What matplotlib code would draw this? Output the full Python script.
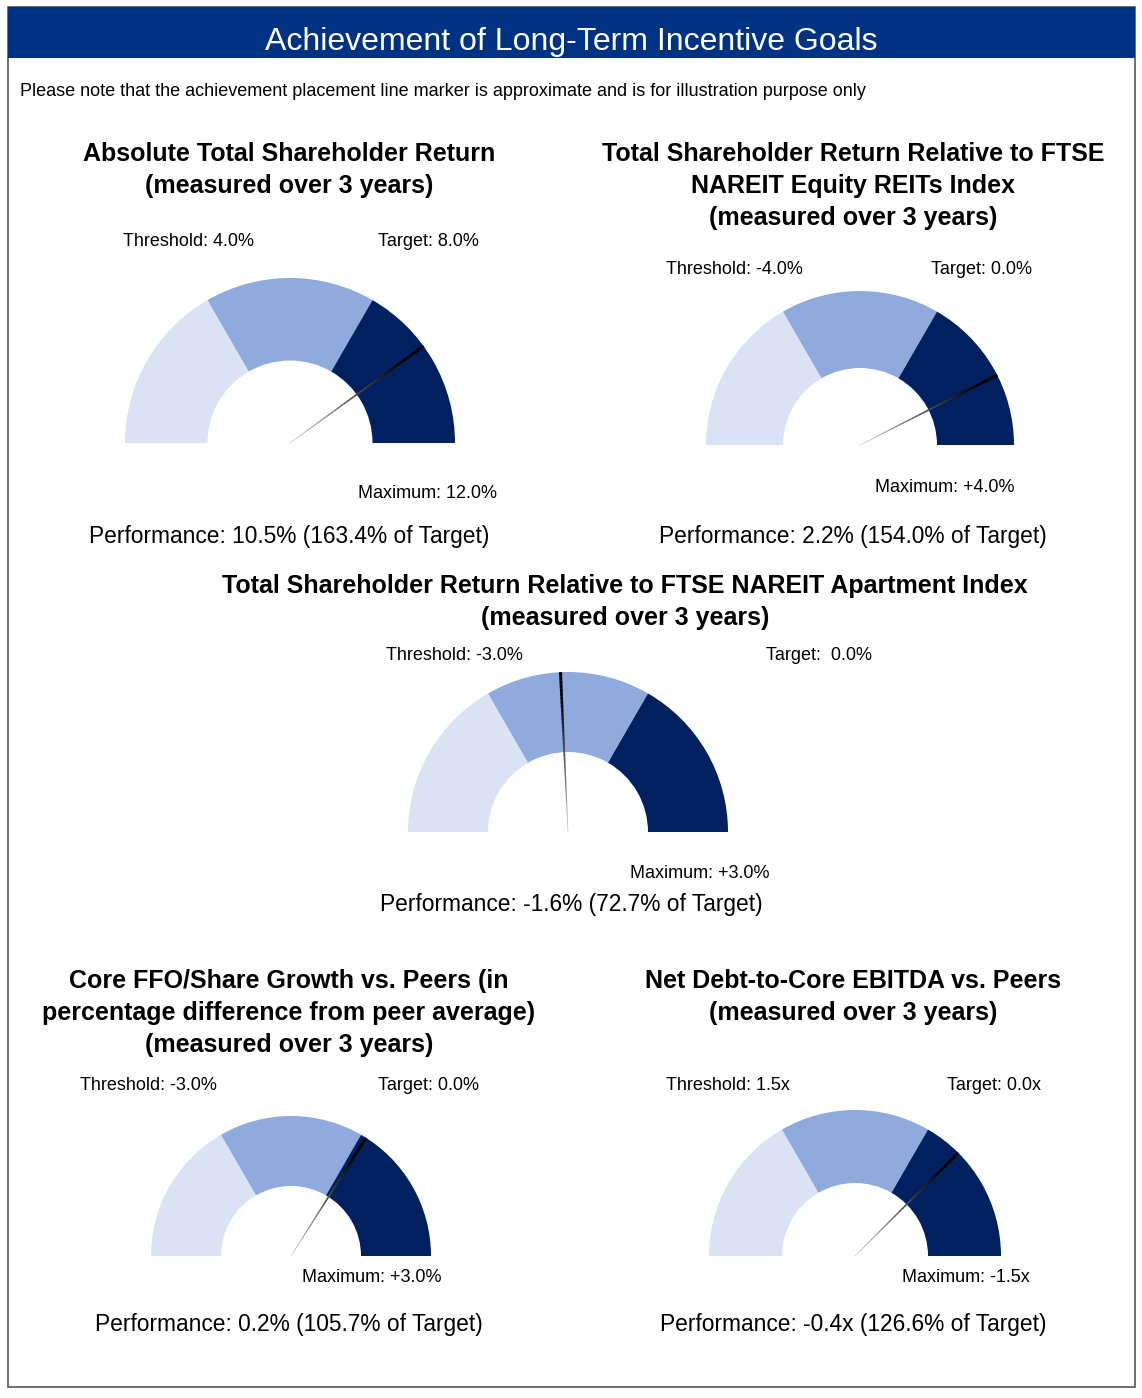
import numpy as np
import matplotlib
matplotlib.use('Agg')
import matplotlib.pyplot as plt
from matplotlib.patches import Wedge, Rectangle
from matplotlib.collections import LineCollection

plt.rcParams['font.family'] = ['Liberation Sans', 'DejaVu Sans']

W, H = 1142, 1398

# chart data
main_title = 'Achievement of Long-Term Incentive Goals'
note = ('Please note that the achievement placement line marker is approximate '
        'and is for illustration purpose only')

gauge_titles = [
    ['Absolute Total Shareholder Return', '(measured over 3 years)'],
    ['Total Shareholder Return Relative to FTSE', 'NAREIT Equity REITs Index',
     '(measured over 3 years)'],
    ['Total Shareholder Return Relative to FTSE NAREIT Apartment Index',
     '(measured over 3 years)'],
    ['Core FFO/Share Growth vs. Peers (in',
     'percentage difference from peer average)', '(measured over 3 years)'],
    ['Net Debt-to-Core EBITDA vs. Peers', '(measured over 3 years)'],
]
threshold_labels = ['Threshold: 4.0%', 'Threshold: -4.0%', 'Threshold: -3.0%',
                    'Threshold: -3.0%', 'Threshold: 1.5x']
target_labels = ['Target: 8.0%', 'Target: 0.0%', 'Target:  0.0%',
                 'Target: 0.0%', 'Target: 0.0x']
maximum_labels = ['Maximum: 12.0%', 'Maximum: +4.0%', 'Maximum: +3.0%',
                  'Maximum: +3.0%', 'Maximum: -1.5x']
performance_labels = ['Performance: 10.5% (163.4% of Target)',
                      'Performance: 2.2% (154.0% of Target)',
                      'Performance: -1.6% (72.7% of Target)',
                      'Performance: 0.2% (105.7% of Target)',
                      'Performance: -0.4x (126.6% of Target)']
# needle placement as share of the dial (0 = left end, 1 = right end)
needle_pos = [0.80, 0.85, 0.485, 0.68, 0.75]
# three equal bands: below threshold, threshold-target, target-maximum
band_sizes = [1, 1, 1]
band_colors = ['#DAE3F3', '#8FAADC', '#002060']

# layout of each panel (pixels)
layout = [
    dict(cx=290, cy=443, r=165, tx=289, ty=154, thx=123, thy=242, tgx=378,
         mx=358, my=494, px=289, py=537),
    dict(cx=860, cy=445, r=154, tx=853, ty=154, thx=666, thy=269, tgx=931,
         mx=875, my=488, px=853, py=537),
    dict(cx=568, cy=832, r=160, tx=625, ty=586, thx=386, thy=656, tgx=766,
         mx=630, my=873, px=571, py=904),
    dict(cx=291, cy=1256, r=140, tx=289, ty=981, thx=80, thy=1085, tgx=378,
         mx=302, my=1278, px=289, py=1324),
    dict(cx=855, cy=1256, r=146, tx=853, ty=981, thx=666, thy=1085, tgx=947,
         mx=902, my=1278, px=853, py=1324),
]

fig = plt.figure(figsize=(W / 100, H / 100), dpi=100)
ax = fig.add_axes([0, 0, 1, 1])
ax.set_xlim(0, W)
ax.set_ylim(H, 0)
ax.axis('off')

# frame and header
ax.add_patch(Rectangle((8, 7), 1127, 1380, facecolor='white',
                       edgecolor='#555555', linewidth=1.2))
ax.add_patch(Rectangle((8, 7), 1127, 51, facecolor='#003283',
                       edgecolor='none'))
ax.text(571, 42, main_title, color='white', fontsize=23,
        ha='center', va='center')
ax.text(20, 92, note, fontsize=13.0, ha='left', va='center')


def draw_gauge(ax, g, pos):
    cx, cy, r = g['cx'], g['cy'], g['r']
    edges = np.concatenate([[0], np.cumsum(band_sizes)]) / np.sum(band_sizes)
    for f0, f1, col in zip(edges[:-1], edges[1:], band_colors):
        a0 = 180 - 180 * f0
        a1 = 180 - 180 * f1
        ax.add_patch(Wedge((cx, cy), r, -a0, -a1, width=r * 0.5,
                           facecolor=col, edgecolor='none'))

    # needle: thin grey at the hub, black and thicker at the rim
    ang = np.radians(180 - 180 * pos)
    n = 40
    rr = np.linspace(0, r, n + 1)
    xs = cx + rr * np.cos(ang)
    ys = cy - rr * np.sin(ang)
    segs = [[(xs[i], ys[i]), (xs[i + 1], ys[i + 1])] for i in range(n)]
    t = np.linspace(0, 1, n)
    shade = np.clip(0.75 - 0.9 * t, 0, 1)
    cols = [(s, s, s) for s in shade]
    lws = 0.4 + 1.8 * t
    ax.add_collection(LineCollection(segs, colors=cols, linewidths=lws,
                                     capstyle='butt', zorder=3))


for i, g in enumerate(layout):
    for k, line in enumerate(gauge_titles[i]):
        ax.text(g['tx'], g['ty'] + 32 * k, line, fontsize=18,
                fontweight='bold', ha='center', va='center')
    ax.text(g['thx'], g['thy'], threshold_labels[i], fontsize=13,
            ha='left', va='center')
    ax.text(g['tgx'], g['thy'], target_labels[i], fontsize=13,
            ha='left', va='center')
    ax.text(g['mx'], g['my'], maximum_labels[i], fontsize=13,
            ha='left', va='center')
    ax.text(g['px'], g['py'], performance_labels[i], fontsize=16.4,
            ha='center', va='center')
    draw_gauge(ax, g, needle_pos[i])

fig.savefig('out.png', dpi=100)
